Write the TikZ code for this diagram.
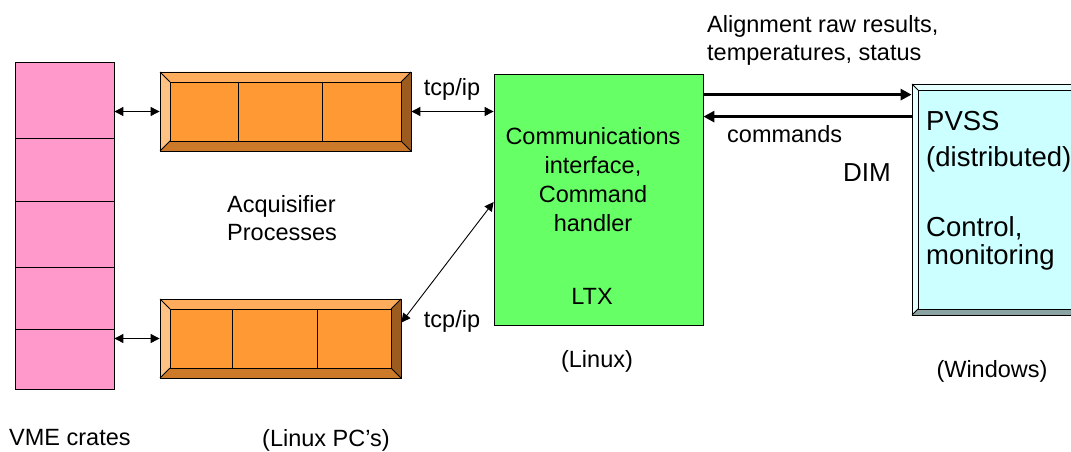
\documentclass[tikz,border=0pt]{standalone}
\usepackage{fontspec}
\setmainfont{Liberation Sans}
\usetikzlibrary{arrows.meta,calc,fit}
\definecolor{pinkc}{HTML}{FF99CC}
\definecolor{orface}{HTML}{FF9933}
\definecolor{ortop}{HTML}{FFAD5C}
\definecolor{orleft}{HTML}{FFC285}
\definecolor{orright}{HTML}{9C5C1F}
\definecolor{orbot}{HTML}{CC7A29}
\definecolor{greenc}{HTML}{66FF66}
\definecolor{cyface}{HTML}{CCFFFF}
\definecolor{cytop}{HTML}{E6FFFF}
\definecolor{cyleft}{HTML}{E6FFFF}
\definecolor{cyright}{HTML}{99B2B2}
\definecolor{cybot}{HTML}{8CA3A3}
\tikzset{
  edge/.style={draw=black, line width=0.8pt},
  crate/.style={edge, fill=pinkc, minimum width=99pt, inner sep=0pt},
  ltxbox/.style={edge, fill=greenc, inner sep=0pt},
  biarrow/.style={line width=0.9pt, {Triangle[length=9pt,width=9pt]}-{Triangle[length=9pt,width=9pt]}},
  thickarrow/.style={line width=3pt, -{Triangle[length=11pt,width=11pt]}},
  lbl/.style={inner sep=0pt, font=\fontsize{23.5}{28}\selectfont},
  biglbl/.style={inner sep=0pt, font=\fontsize{26}{36}\selectfont},
}
\newcommand\bevelbox[7]{%
 \fill[#7top] (#2,#3) -- (#4,#3) -- ({#4-#6},{#3+#6}) -- ({#2+#6},{#3+#6}) -- cycle;
 \fill[#7left] (#2,#3) -- ({#2+#6},{#3+#6}) -- ({#2+#6},{#5-#6}) -- (#2,#5) -- cycle;
 \fill[#7right] (#4,#3) -- (#4,#5) -- ({#4-#6},{#5-#6}) -- ({#4-#6},{#3+#6}) -- cycle;
 \fill[#7bot] (#2,#5) -- (#4,#5) -- ({#4-#6},{#5-#6}) -- ({#2+#6},{#5-#6}) -- cycle;
 \draw[edge, fill=#7face] ({#2+#6},{#3+#6}) rectangle ({#4-#6},{#5-#6});
 \draw[edge] (#2,#3) -- ({#2+#6},{#3+#6}) (#4,#3) -- ({#4-#6},{#3+#6})
   (#4,#5) -- ({#4-#6},{#5-#6}) (#2,#5) -- ({#2+#6},{#5-#6});
 \node[fit={(#2,#3) (#4,#5)}, inner sep=0pt, edge] (#1) {};
}
\begin{document}
\begin{tikzpicture}[x=1pt,y=-1pt]
\useasboundingbox (0,0) rectangle (1071,452);
\clip (0,0) rectangle (1071,452);

% VME crates
\node[crate, minimum height=76pt] (crate1) at (64.5,100) {};
\node[crate, minimum height=63pt] (crate2) at (64.5,169.5) {};
\node[crate, minimum height=66pt] (crate3) at (64.5,234) {};
\node[crate, minimum height=62pt] (crate4) at (64.5,298) {};
\node[crate, minimum height=60pt] (crate5) at (64.5,359) {};

% Acquisifier boxes
\bevelbox{orangeA}{160}{72}{411}{151}{10}{or}
\draw[edge] (238,82) -- (238,141) (322,82) -- (322,141);
\bevelbox{orangeB}{160}{299}{401}{378}{10}{or}
\draw[edge] (232,309) -- (232,368) (317,309) -- (317,368);

% LTX box
\node[ltxbox, minimum width=209pt, minimum height=251pt] (ltx) at (598.5,199.5) {};

% PVSS box
\bevelbox{pvss}{912}{84}{1100}{315}{6}{cy}

% connectors
\draw[biarrow] (crate1.east |- orangeA.west) -- (orangeA.west);
\draw[biarrow] (crate5.east |- orangeB.west) -- (orangeB.west);
\draw[biarrow] (orangeA.east) -- (orangeA.east -| ltx.west);
\coordinate (bhit) at ($(orangeB.north east)!0.3!(orangeB.south east)$);
\coordinate (lhit) at ($(ltx.north west)!0.51!(ltx.south west)$);
\draw[biarrow] (bhit) -- (lhit);
\coordinate (ltxA) at ($(ltx.north east)+(0,21)$);
\coordinate (ltxB) at ($(ltx.north east)+(0,43)$);
\draw[thickarrow] (ltxA) -- (ltxA -| pvss.west);
\draw[thickarrow] (ltxB -| pvss.west) -- (ltxB);

% labels
\node[lbl, anchor=north west, align=left] (alignlbl) at (707,15) {Alignment raw results,\\temperatures, status};
\node[lbl, anchor=north] (tcp1) at (452,78) {tcp/ip};
\node[lbl, anchor=north] (tcp2) at (452,310) {tcp/ip};
\node[lbl, anchor=north west, align=left] (acq) at (227,195) {Acquisifier\\Processes};
\node[lbl, anchor=north, align=center, font=\fontsize{23.5}{29}\selectfont] (ltxtext) at (593,127) {Communications\\interface,\\Command\\handler};
\node[lbl, anchor=north] (ltxname) at (592,288) {LTX};
\node[lbl, anchor=north] (linux) at (597,350) {(Linux)};
\node[lbl, anchor=north west] (cmds) at (727,125) {commands};
\node[biglbl, anchor=north west] (dim) at (843,163) {DIM};
\node[biglbl, anchor=north west, align=left, font=\fontsize{27.5}{36}\selectfont] (pvsstext) at (926,111) {PVSS\\(distributed)};
\node[biglbl, anchor=north west, align=left, font=\fontsize{27.5}{28}\selectfont] (ctrl) at (926,216) {Control,\\monitoring};
\node[lbl, anchor=north] (windows) at (992,360) {(Windows)};
\node[lbl, anchor=north west] (vme) at (9,429) {VME crates};
\node[lbl, anchor=north] (linuxpc) at (326,429) {(Linux PC's)};
\end{tikzpicture}
\end{document}
